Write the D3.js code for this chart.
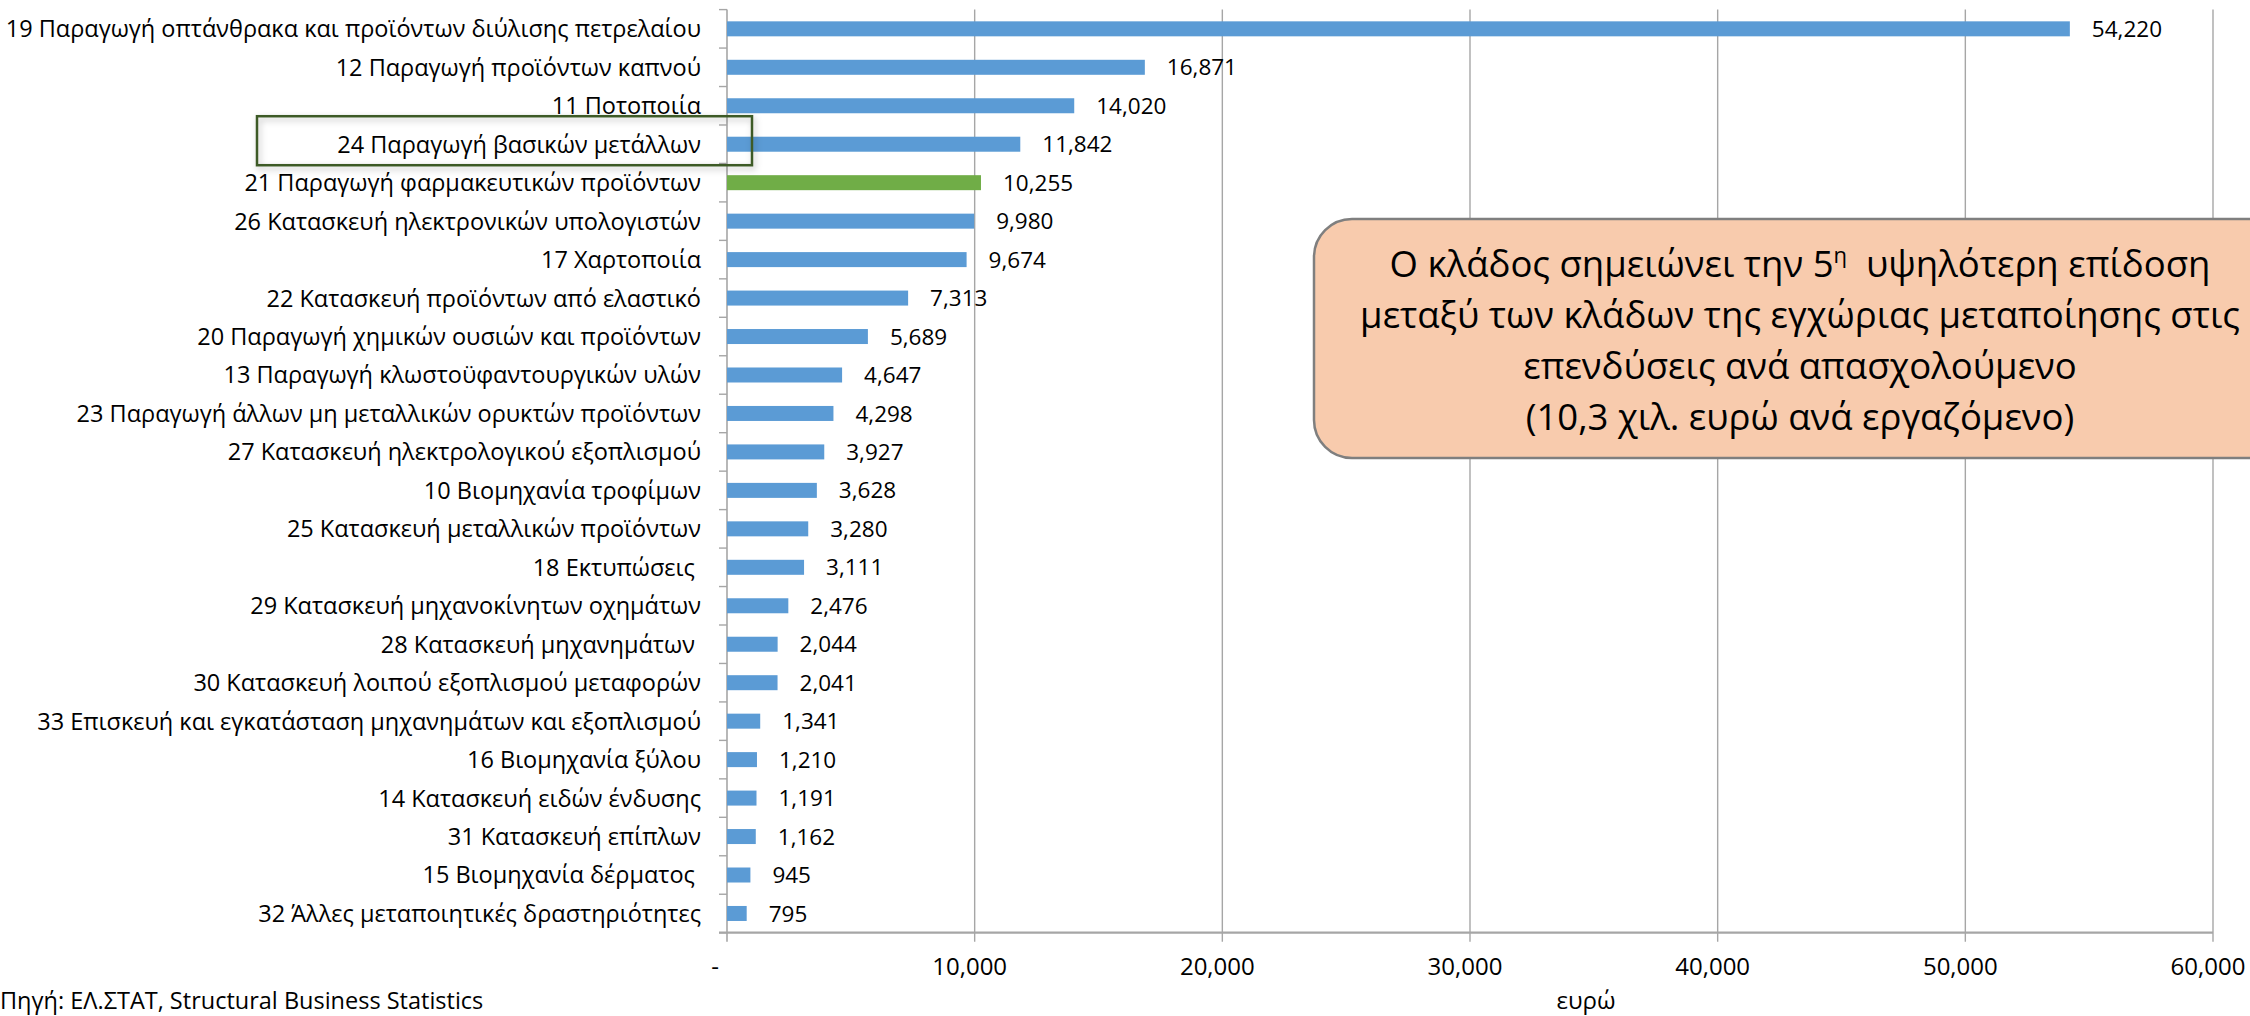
<!DOCTYPE html>
<html>
<head>
<meta charset="utf-8">
<script src="https://cdn.jsdelivr.net/npm/d3@7"></script>
<style>
  html, body { margin: 0; padding: 0; background: #ffffff; }
  svg { display: block; font-family: "Open Sans", "Noto Sans", sans-serif; }
  text { white-space: pre; fill: #000; }
</style>
</head>
<body>
<svg id="chart" width="2250" height="1016"></svg>
<script>
const categories = [
  "19 Παραγωγή οπτάνθρακα και προϊόντων διύλισης πετρελαίου",
  "12 Παραγωγή προϊόντων καπνού",
  "11 Ποτοποιία",
  "24 Παραγωγή βασικών μετάλλων",
  "21 Παραγωγή φαρμακευτικών προϊόντων",
  "26 Κατασκευή ηλεκτρονικών υπολογιστών",
  "17 Χαρτοποιία",
  "22 Κατασκευή προϊόντων από ελαστικό",
  "20 Παραγωγή χημικών ουσιών και προϊόντων",
  "13 Παραγωγή κλωστοϋφαντουργικών υλών",
  "23 Παραγωγή άλλων μη μεταλλικών ορυκτών προϊόντων",
  "27 Κατασκευή ηλεκτρολογικού εξοπλισμού",
  "10 Βιομηχανία τροφίμων",
  "25 Κατασκευή μεταλλικών προϊόντων",
  "18 Εκτυπώσεις ",
  "29 Κατασκευή μηχανοκίνητων οχημάτων",
  "28 Κατασκευή μηχανημάτων ",
  "30 Κατασκευή λοιπού εξοπλισμού μεταφορών",
  "33 Επισκευή και εγκατάσταση μηχανημάτων και εξοπλισμού",
  "16 Βιομηχανία ξύλου",
  "14 Κατασκευή ειδών ένδυσης",
  "31 Κατασκευή επίπλων",
  "15 Βιομηχανία δέρματος ",
  "32 Άλλες μεταποιητικές δραστηριότητες"
];
const values = [54220, 16871, 14020, 11842, 10255, 9980, 9674, 7313, 5689, 4647, 4298, 3927,
                3628, 3280, 3111, 2476, 2044, 2041, 1341, 1210, 1191, 1162, 945, 795];
const highlightCategory = "21 Παραγωγή φαρμακευτικών προϊόντων";
const boxedCategory = "24 Παραγωγή βασικών μετάλλων";
const xTicks = [0, 10000, 20000, 30000, 40000, 50000, 60000];
const xTickLabels = ["-", "10,000", "20,000", "30,000", "40,000", "50,000", "60,000"];
const xAxisTitle = "ευρώ";
const sourceText = "Πηγή: ΕΛ.ΣΤΑΤ, Structural Business Statistics";
const noteLines = [
  ["Ο κλάδος σημειώνει την 5", "η", "  υψηλότερη επίδοση"],
  ["μεταξύ των κλάδων της εγχώριας μεταποίησης στις"],
  ["επενδύσεις ανά απασχολούμενο"],
  ["(10,3 χιλ. ευρώ ανά εργαζόμενο)"]
];

const svg = d3.select("#chart");
const defs = svg.append("defs");
const f = defs.append("filter").attr("id", "shadow").attr("x", "-10%").attr("y", "-30%").attr("width", "120%").attr("height", "160%");
f.append("feDropShadow").attr("dx", 2).attr("dy", 3).attr("stdDeviation", 3).attr("flood-color", "#000").attr("flood-opacity", 0.25);

const x = d3.scaleLinear().domain([0, 60000]).range([727, 2213]);
const y = d3.scaleBand().domain(categories).range([9.6, 932.7]).paddingInner(0.61).paddingOuter(0.305);
const [yTop, yBottom] = y.range();
const gridColor = "#a6a6a6";

// gridlines
svg.append("g").selectAll("line").data(xTicks.slice(1)).join("line")
  .attr("x1", d => x(d)).attr("x2", d => x(d))
  .attr("y1", yTop).attr("y2", yBottom + 9)
  .attr("stroke", gridColor).attr("stroke-width", 1.4);

// category axis line + ticks
svg.append("line").attr("x1", x(0)).attr("x2", x(0)).attr("y1", yTop).attr("y2", yBottom + 9)
  .attr("stroke", gridColor).attr("stroke-width", 1.6);
svg.append("g").selectAll("line").data(d3.range(categories.length + 1)).join("line")
  .attr("x1", x(0) - 8).attr("x2", x(0))
  .attr("y1", i => yTop + i * y.step()).attr("y2", i => yTop + i * y.step())
  .attr("stroke", gridColor).attr("stroke-width", 1.4);

// value axis line
svg.append("line").attr("x1", x(0) - 8).attr("x2", x(60000)).attr("y1", yBottom).attr("y2", yBottom)
  .attr("stroke", gridColor).attr("stroke-width", 2.2);

// bars
svg.append("g").selectAll("rect").data(categories).join("rect")
  .attr("x", x(0))
  .attr("y", d => y(d))
  .attr("width", (d, i) => x(values[i]) - x(0))
  .attr("height", y.bandwidth())
  .attr("fill", d => d === highlightCategory ? "#70ad47" : "#5b9bd5");

// value labels
svg.append("g").selectAll("text").data(categories).join("text")
  .attr("x", (d, i) => x(values[i]) + 22)
  .attr("y", d => y(d) + y.bandwidth() / 2)
  .attr("dy", "0.36em")
  .attr("font-size", 22.5)
  .text((d, i) => d3.format(",")(values[i]));

// category labels
svg.append("g").selectAll("text").data(categories).join("text")
  .attr("x", 701)
  .attr("y", d => y(d) + y.bandwidth() / 2)
  .attr("dy", "0.36em")
  .attr("text-anchor", "end")
  .attr("font-size", 23.5)
  .text(d => d);

// x tick labels
svg.append("g").selectAll("text").data(xTicks).join("text")
  .attr("x", (d, i) => x(d) + (i === 0 ? -12 : -5))
  .attr("y", 975)
  .attr("text-anchor", "middle")
  .attr("font-size", 24)
  .text((d, i) => xTickLabels[i]);

// axis title
svg.append("text").attr("x", 1586).attr("y", 1009).attr("text-anchor", "middle")
  .attr("font-size", 24).text(xAxisTitle);

// source
svg.append("text").attr("x", 0).attr("y", 1009).attr("font-size", 23.5).text(sourceText);

// box around highlighted label
const bc = y(boxedCategory) + y.bandwidth() / 2;
svg.append("rect").attr("x", 257).attr("y", bc - 28).attr("width", 495).attr("height", 49)
  .attr("fill", "none").attr("stroke", "#3d5a27").attr("stroke-width", 2.5)
  .attr("filter", "url(#shadow)");

// annotation
svg.append("rect").attr("x", 1314).attr("y", 219).attr("width", 984).attr("height", 239)
  .attr("rx", 38).attr("ry", 38)
  .attr("fill", "#f8cbad").attr("stroke", "#7f7f7f").attr("stroke-width", 2.5);
const note = svg.append("text").attr("text-anchor", "middle").attr("font-size", 36.5);
noteLines.forEach((parts, i) => {
  const line = note.append("tspan").attr("x", 1800).attr("y", 277 + i * 51);
  parts.forEach((p, j) => {
    if (parts.length === 3 && j === 1) {
      line.append("tspan").attr("font-size", 22).attr("dy", -14).text(p);
    } else if (parts.length === 3 && j === 2) {
      line.append("tspan").attr("dy", 14).text(p);
    } else {
      line.append("tspan").text(p);
    }
  });
});
</script>
</body>
</html>
